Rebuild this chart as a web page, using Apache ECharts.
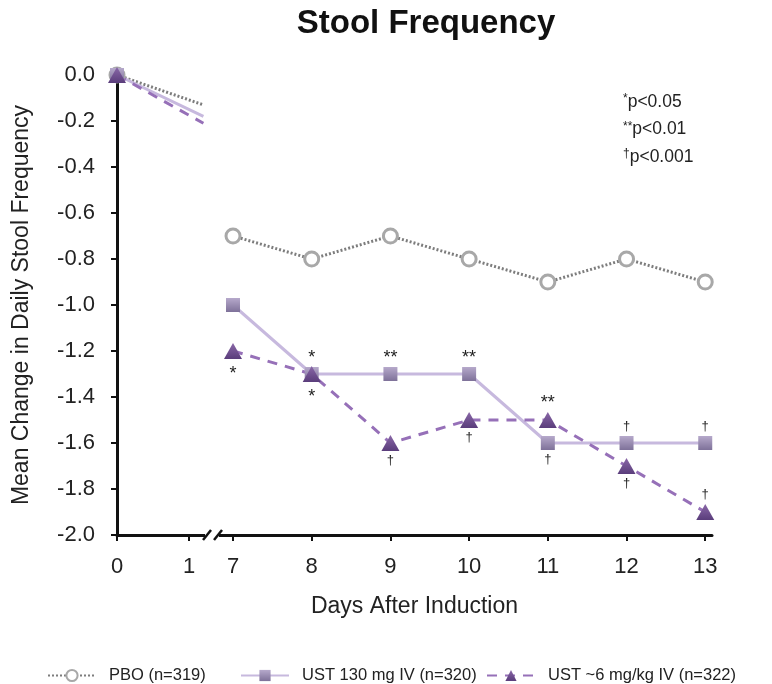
<!DOCTYPE html>
<html>
<head>
<meta charset="utf-8">
<script src="https://cdn.jsdelivr.net/npm/echarts@6/dist/echarts.min.js"></script>
<style>
  html, body {margin: 0; padding: 0; background: #fff;}
  #chart {width: 772px; height: 684px;}
</style>
</head>
<body>
<div id="chart"></div>
<script>
// data
const days = [7, 8, 9, 10, 11, 12, 13];
const pbo = [-0.7, -0.8, -0.7, -0.8, -0.9, -0.8, -0.9];
const ust130 = [-1.0, -1.3, -1.3, -1.3, -1.6, -1.6, -1.6];
const ust6 = [-1.2, -1.3, -1.6, -1.5, -1.5, -1.7, -1.9];
// early segment (day 0 towards day 1, cut at the axis break)
const earlyDays = [0, 1.2];
const pboEarly = [0, -0.13];
const ust130Early = [0, -0.18];
const ust6Early = [0, -0.21];
// significance marks per day 7..13
const ust130Sig = ['', '*', '**', '**', '†', '†', '†'];
const ust6Sig = ['*', '*', '†', '†', '**', '†', '†'];
const xTicks = [0, 1, 7, 8, 9, 10, 11, 12, 13];
const names = ['PBO (n=319)', 'UST 130 mg IV (n=320)', 'UST ~6 mg/kg IV (n=322)'];

// broken axis: 0..1 drawn a bit tighter, then jump to 7
function pos(d) {
  return d <= 1.5 ? d * 0.915 : 1.474 + (d - 7);
}

const ust130Below = [11];
const ust6Above = [11, 13];

function build(early, vals, sig, below, isAbove) {
  const data = early.map((v, i) => i === 0
    ? [pos(earlyDays[i]), v]
    : {value: [pos(earlyDays[i]), v], symbol: 'none'});
  data.push([pos(1.35), '-']);
  vals.forEach((v, i) => {
    const s = sig ? sig[i] : '';
    let up = true;
    if (isAbove) up = isAbove.indexOf(days[i]) >= 0;
    if (below) up = below.indexOf(days[i]) < 0;
    const item = {value: [pos(days[i]), v]};
    if (s) {
      const star = s.indexOf('*') >= 0;
      item.label = {
        show: true,
        formatter: s,
        position: up ? 'top' : 'bottom',
        distance: up ? (star ? 0 : 3) : (star ? 6 : 3),
        fontSize: star ? 18 : 13,
        fontFamily: 'Liberation Sans',
        color: '#222'
      };
    }
    data.push(item);
  });
  return data;
}

const font = 'Liberation Sans';
const chart = echarts.init(document.getElementById('chart'));
chart.setOption({
  animation: false,
  title: {
    text: 'Stool Frequency',
    left: 421,
    top: 2,
    textAlign: 'center',
    textStyle: {fontFamily: font, fontSize: 33, fontWeight: 'bold', color: '#111'}
  },
  grid: {left: 117, top: 75, right: 60, bottom: 149},
  xAxis: {
    type: 'value',
    min: 0,
    max: 7.56,
    name: 'Days After Induction',
    nameLocation: 'middle',
    nameGap: 60,
    nameTextStyle: {fontFamily: font, fontSize: 23, color: '#222'},
    splitLine: {show: false},
    axisLine: {onZero: false, lineStyle: {color: '#111', width: 3}},
    axisTick: {show: true, customValues: xTicks.map(pos), length: 6, lineStyle: {color: '#111', width: 2}},
    axisLabel: {
      customValues: xTicks.map(pos),
      formatter: v => {
        const i = xTicks.map(pos).findIndex(p => Math.abs(p - v) < 1e-6);
        return i >= 0 ? String(xTicks[i]) : '';
      },
      margin: 21,
      fontFamily: font,
      fontSize: 22,
      color: '#222'
    }
  },
  yAxis: {
    type: 'value',
    min: -2,
    max: 0,
    interval: 0.2,
    name: 'Mean Change in Daily Stool Frequency',
    nameLocation: 'middle',
    nameGap: 84,
    nameTextStyle: {fontFamily: font, fontSize: 23, color: '#222'},
    splitLine: {show: false},
    axisLine: {show: true, lineStyle: {color: '#111', width: 3}},
    axisTick: {show: true, length: 6, lineStyle: {color: '#111', width: 2}},
    axisLabel: {
      formatter: v => v.toFixed(1),
      margin: 22,
      fontFamily: font,
      fontSize: 22,
      color: '#222'
    }
  },
  legend: [42, 235, 481].map((x, i) => ({
    left: x,
    top: 662,
    itemWidth: 48,
    itemHeight: 14,
    textStyle: {fontFamily: font, fontSize: 16.5, color: '#222', padding: [0, 0, 0, 8]},
    data: [names[i]]
  })),
  series: [
    {
      name: names[0],
      type: 'line',
      data: build(pboEarly, pbo),
      symbol: 'circle',
      symbolSize: 14,
      itemStyle: {color: '#fff', borderColor: '#a8a8a8', borderWidth: 3},
      lineStyle: {color: '#7d7d7d', width: 3, type: [2, 2]}
    },
    {
      name: names[1],
      type: 'line',
      data: build(ust130Early, ust130, ust130Sig, ust130Below),
      symbol: 'rect',
      symbolSize: 14,
      itemStyle: {
        color: new echarts.graphic.LinearGradient(0, 0, 0, 1, [
          {offset: 0, color: '#b6a9cb'},
          {offset: 1, color: '#7e7199'}
        ]),
        borderWidth: 0
      },
      lineStyle: {color: '#c7b9de', width: 3, type: 'solid'}
    },
    {
      name: names[2],
      type: 'line',
      data: build(ust6Early, ust6, ust6Sig, null, ust6Above),
      symbol: 'triangle',
      symbolSize: [18, 16],
      itemStyle: {
        color: new echarts.graphic.LinearGradient(0, 0, 0, 1, [
          {offset: 0, color: '#8a68a8'},
          {offset: 1, color: '#5a3d7b'}
        ]),
        borderWidth: 0
      },
      lineStyle: {color: '#9670b8', width: 3, type: [10, 8]}
    }
  ]
});

// axis break marks and p-value key
const y0 = chart.convertToPixel({gridIndex: 0}, [0, -2])[1];
const xb = (chart.convertToPixel({gridIndex: 0}, [pos(1), 0])[0] + chart.convertToPixel({gridIndex: 0}, [pos(7), 0])[0]) / 2 + 2;
const pKey = [['*', 'p<0.05'], ['**', 'p<0.01'], ['†', 'p<0.001']];
chart.setOption({
  graphic: [
    {type: 'rect', shape: {x: xb - 8, y: y0 - 4, width: 14, height: 8}, style: {fill: '#fff'}, z: 100},
    {type: 'line', shape: {x1: xb - 10, y1: y0 + 5, x2: xb - 2, y2: y0 - 5}, style: {stroke: '#111', lineWidth: 2.5}, z: 101},
    {type: 'line', shape: {x1: xb + 1, y1: y0 + 5, x2: xb + 9, y2: y0 - 5}, style: {stroke: '#111', lineWidth: 2.5}, z: 101}
  ].concat(pKey.map((k, i) => ({
    type: 'text',
    left: 623,
    top: 93 + i * 27.5,
    style: {
      text: '{s|' + k[0] + '}' + k[1],
      font: '17.5px "Liberation Sans"',
      fill: '#222',
      rich: {
        s: {fontSize: 12, verticalAlign: 'top', fill: '#222', padding: [0, 0, 4, 0]}
      }
    }
  })))
});
</script>
</body>
</html>
